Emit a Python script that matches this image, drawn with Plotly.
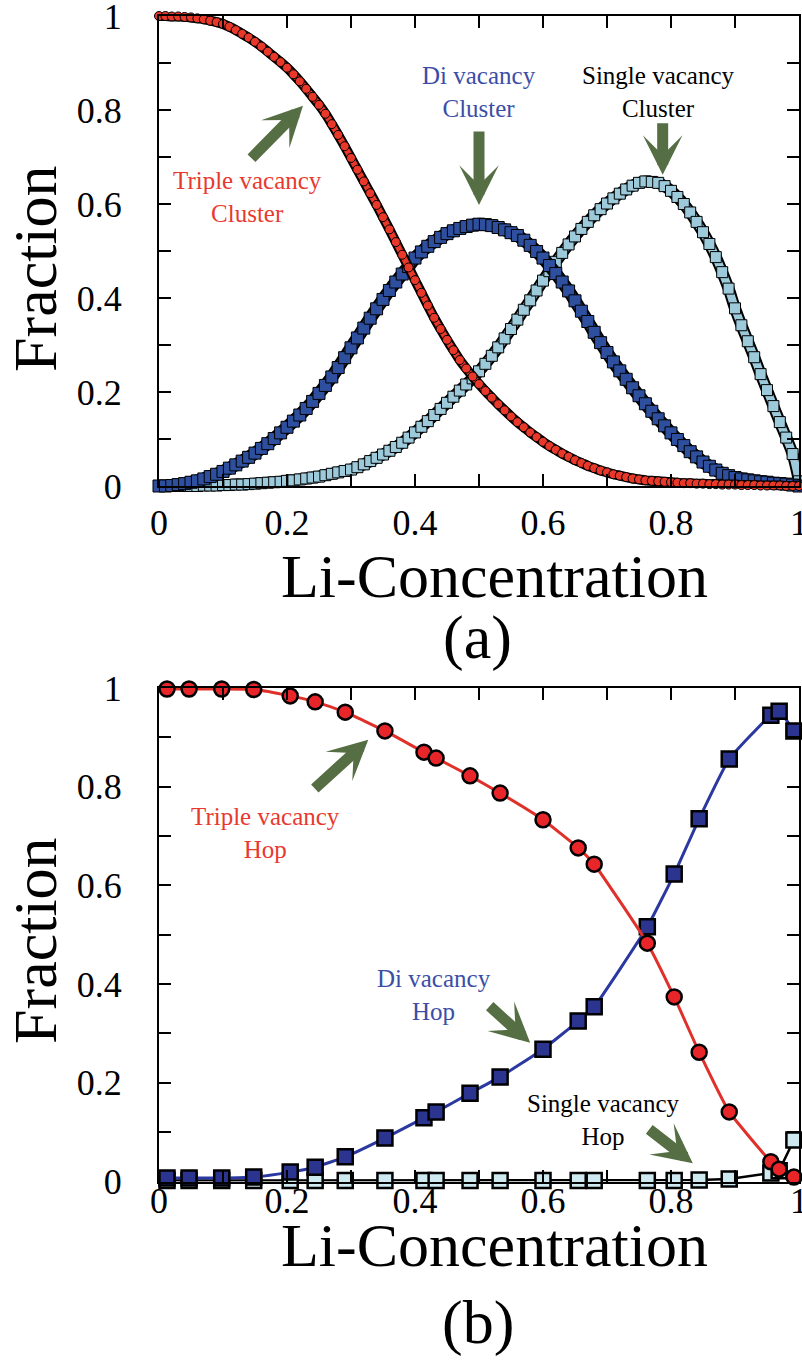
import plotly.graph_objects as go

# ---------------- panel (a): cluster fractions vs Li concentration ----------------
conc_a = [i / 100 for i in range(101)]

triple_cluster = [
    1.000, 1.000, 0.999, 0.999, 0.998, 0.997, 0.995, 0.993, 0.990, 0.987,
    0.983, 0.977, 0.970, 0.962, 0.954, 0.945, 0.935, 0.924, 0.913, 0.902,
    0.890, 0.876, 0.861, 0.845, 0.828, 0.811, 0.792, 0.770, 0.747, 0.723,
    0.698, 0.673, 0.648, 0.623, 0.598, 0.572, 0.546, 0.519, 0.492, 0.465,
    0.438, 0.411, 0.384, 0.358, 0.334, 0.311, 0.289, 0.268, 0.250, 0.233,
    0.217, 0.202, 0.188, 0.174, 0.161, 0.148, 0.136, 0.125, 0.114, 0.104,
    0.094, 0.085, 0.077, 0.069, 0.062, 0.055, 0.049, 0.043, 0.038, 0.033,
    0.029, 0.025, 0.022, 0.019, 0.016, 0.014, 0.012, 0.011, 0.010, 0.009,
    0.008, 0.007, 0.006, 0.006, 0.005, 0.005, 0.004, 0.004, 0.003, 0.003,
    0.003, 0.002, 0.002, 0.002, 0.001, 0.001, 0.001, 0.001, 0.000, 0.000,
    0.000,
]

di_cluster = [
    0.000, 0.000, 0.001, 0.003, 0.005, 0.008, 0.011, 0.015, 0.020, 0.025,
    0.031, 0.038, 0.045, 0.053, 0.061, 0.070, 0.080, 0.090, 0.101, 0.113,
    0.125, 0.138, 0.151, 0.165, 0.180, 0.197, 0.214, 0.232, 0.252, 0.273,
    0.294, 0.315, 0.336, 0.357, 0.377, 0.397, 0.416, 0.434, 0.451, 0.467,
    0.485, 0.498, 0.510, 0.520, 0.529, 0.537, 0.543, 0.548, 0.552, 0.555,
    0.557, 0.556, 0.554, 0.550, 0.545, 0.539, 0.533, 0.523, 0.512, 0.499,
    0.485, 0.469, 0.452, 0.434, 0.415, 0.394, 0.372, 0.350, 0.327, 0.305,
    0.284, 0.264, 0.245, 0.227, 0.209, 0.192, 0.175, 0.159, 0.143, 0.128,
    0.113, 0.099, 0.086, 0.073, 0.062, 0.051, 0.042, 0.034, 0.027, 0.022,
    0.018, 0.015, 0.013, 0.011, 0.009, 0.008, 0.006, 0.005, 0.004, 0.002,
    0.000,
]

single_cluster = [
    0.000, 0.000, 0.000, 0.000, 0.000, 0.000, 0.000, 0.001, 0.001, 0.001,
    0.002, 0.002, 0.003, 0.003, 0.004, 0.005, 0.006, 0.007, 0.008, 0.009,
    0.011, 0.012, 0.014, 0.016, 0.018, 0.020, 0.023, 0.026, 0.029, 0.032,
    0.035, 0.040, 0.046, 0.053, 0.060, 0.067, 0.075, 0.083, 0.092, 0.103,
    0.114, 0.126, 0.138, 0.151, 0.164, 0.177, 0.190, 0.203, 0.216, 0.229,
    0.244, 0.260, 0.277, 0.295, 0.314, 0.334, 0.354, 0.375, 0.395, 0.416,
    0.437, 0.457, 0.477, 0.496, 0.514, 0.531, 0.547, 0.562, 0.576, 0.589,
    0.601, 0.612, 0.622, 0.631, 0.639, 0.645, 0.648, 0.647, 0.645, 0.638,
    0.628, 0.615, 0.600, 0.582, 0.562, 0.540, 0.515, 0.487, 0.455, 0.420,
    0.378, 0.342, 0.308, 0.274, 0.238, 0.204, 0.170, 0.136, 0.103, 0.068,
    0.010,
]

# ---------------- panel (b): hop fractions vs Li concentration ----------------
conc_b = [0.0125, 0.047, 0.098, 0.148, 0.205, 0.244, 0.291, 0.353, 0.414, 0.433,
          0.486, 0.533, 0.600, 0.655, 0.680, 0.763, 0.805, 0.844, 0.891, 0.956,
          0.969, 0.992]

triple_hop = [0.998, 0.998, 0.998, 0.997, 0.984, 0.972, 0.951, 0.913, 0.870, 0.858,
              0.822, 0.787, 0.733, 0.676, 0.643, 0.483, 0.374, 0.262, 0.141, 0.040,
              0.025, 0.009]

di_hop = [0.007, 0.007, 0.007, 0.009, 0.019, 0.029, 0.050, 0.088, 0.129, 0.141,
          0.179, 0.212, 0.268, 0.325, 0.354, 0.516, 0.623, 0.735, 0.856, 0.945,
          0.953, 0.913]

single_hop = [0.002, 0.002, 0.002, 0.002, 0.002, 0.002, 0.002, 0.002, 0.002, 0.002,
              0.002, 0.002, 0.002, 0.002, 0.002, 0.002, 0.002, 0.003, 0.005, 0.017,
              0.022, 0.084]

x_ticks = [0, 0.2, 0.4, 0.6, 0.8, 1]
x_tick_text = ["0", "0.2", "0.4", "0.6", "0.8", "1"]
y_ticks = [0, 0.2, 0.4, 0.6, 0.8, 1]
y_tick_text = ["0", "0.2", "0.4", "0.6", "0.8", "1"]

# ---------------- style ----------------
W, H = 802, 1364
SERIF = "Liberation Serif"
RED = "#e8382a"
BLUE = "#2d4f9e"
LIGHT = "#9ccadb"
NAVY = "#2b3590"
PALE = "#cfe9f0"
GREEN = "#566e43"


def px(xp):
    return xp / W


def py(yp):
    return 1 - yp / H


fig = go.Figure()


def dense_band(xs, ys, fill, symbol, size):
    """A packed run of outlined markers: dark rim, coloured core, markers on top."""
    fig.add_trace(go.Scatter(x=xs, y=ys, mode="lines", xaxis="x", yaxis="y",
                             line=dict(color="black", width=size + 1, shape="spline"),
                             cliponaxis=False, showlegend=False, hoverinfo="skip"))
    fig.add_trace(go.Scatter(x=xs, y=ys, mode="lines", xaxis="x", yaxis="y",
                             line=dict(color=fill, width=size - 3, shape="spline"),
                             cliponaxis=False, showlegend=False, hoverinfo="skip"))
    fig.add_trace(go.Scatter(x=xs, y=ys, mode="markers", xaxis="x", yaxis="y",
                             marker=dict(symbol=symbol, size=size, color=fill,
                                         line=dict(color="black", width=1)),
                             cliponaxis=False, showlegend=False))


# panel (a)
dense_band(conc_a, single_cluster, LIGHT, "square", 11)
dense_band(conc_a, di_cluster, BLUE, "square", 12)
dense_band(conc_a, triple_cluster, RED, "circle", 9)

# panel (b) — lines with markers
fig.add_trace(go.Scatter(x=conc_b, y=single_hop, mode="lines+markers", xaxis="x2", yaxis="y2",
                         line=dict(color="black", width=2.5),
                         marker=dict(symbol="square", size=15, color=PALE,
                                     line=dict(color="black", width=2.5)),
                         cliponaxis=False, showlegend=False))
fig.add_trace(go.Scatter(x=conc_b, y=di_hop, mode="lines+markers", xaxis="x2", yaxis="y2",
                         line=dict(color="#2b38a0", width=3, shape="spline", smoothing=0.4),
                         marker=dict(symbol="square", size=15, color=NAVY,
                                     line=dict(color="black", width=2.5)),
                         cliponaxis=False, showlegend=False))
fig.add_trace(go.Scatter(x=conc_b, y=triple_hop, mode="lines+markers", xaxis="x2", yaxis="y2",
                         line=dict(color="#e0302a", width=3, shape="spline", smoothing=0.4),
                         marker=dict(symbol="circle", size=15, color="#e8262a",
                                     line=dict(color="black", width=2.5)),
                         cliponaxis=False, showlegend=False))

axis_common = dict(
    range=[0, 1], showline=True, linecolor="black", linewidth=2, mirror="allticks",
    ticks="inside", ticklen=12, tickwidth=1.5, tickcolor="black", automargin=False,
    tickfont=dict(family=SERIF, size=36, color="black"),
    showgrid=False, zeroline=False, fixedrange=True, ticklabeloverflow="allow",
    minor=dict(ticks="inside", ticklen=12, tickwidth=1.5, tickcolor="black", dtick=0.1,
               showgrid=False),
)

xdom = [px(159), px(799)]
fig.update_layout(
    template="none",
    width=W, height=H, margin=dict(l=0, r=0, t=0, b=0, pad=0), autosize=False,
    paper_bgcolor="white", plot_bgcolor="white",
    xaxis=dict(axis_common, domain=xdom, anchor="y", tickvals=x_ticks,
               ticktext=x_tick_text, ticklabelstandoff=4),
    yaxis=dict(axis_common, domain=[py(486), py(16)], anchor="x", tickvals=y_ticks,
               ticktext=y_tick_text, ticklabelstandoff=28),
    xaxis2=dict(axis_common, domain=xdom, anchor="y2", tickvals=x_ticks,
                ticktext=x_tick_text, ticklabelstandoff=-14),
    yaxis2=dict(axis_common, domain=[py(1181.5), py(688)], anchor="x2", tickvals=y_ticks,
                ticktext=y_tick_text, ticklabelstandoff=28),
)

ann = []


def label(text, x, y, color, xref="x", yref="y", size=25):
    ann.append(dict(text=text, x=x, y=y, xref=xref, yref=yref, showarrow=False,
                    xanchor="center", yanchor="middle",
                    font=dict(family=SERIF, size=size, color=color)))


def arrow(x, y, ax, ay, xref="x", yref="y"):
    ann.append(dict(text="", x=x, y=y, xref=xref, yref=yref, ax=ax, ay=ay,
                    showarrow=True, arrowhead=3, arrowwidth=11, arrowsize=0.6,
                    arrowcolor=GREEN))


# panel (a) labels and arrows
label("Triple vacancy<br>Cluster", 0.138, 0.615, "#e8392f")
label("Di vacancy<br>Cluster", 0.5, 0.838, "#3b4ea6")
label("Single vacancy<br>Cluster", 0.781, 0.838, "black")
arrow(0.225, 0.809, -53, 54)
arrow(0.5, 0.598, 0, -75)
arrow(0.787, 0.662, 0, -53)

# panel (b) labels and arrows
label("Triple vacancy<br>Hop", 0.166, 0.706, "#e8392f", "x2", "y2")
label("Di vacancy<br>Hop", 0.430, 0.378, "#3b4ea6", "x2", "y2")
label("Single vacancy<br>Hop", 0.694, 0.125, "black", "x2", "y2")
arrow(0.327, 0.895, -55, 50, "x2", "y2")
arrow(0.580, 0.281, -42, -38, "x2", "y2")
arrow(0.834, 0.037, -45, -35, "x2", "y2")

# axis titles and panel tags
big = 62
for yc in (269, 941):
    ann.append(dict(text="Fraction", x=px(35), y=py(yc), xref="paper", yref="paper",
                    showarrow=False, textangle=-90, xanchor="center", yanchor="middle",
                    font=dict(family=SERIF, size=big, color="black")))
label("Li-Concentration", px(494), py(576), "black", "paper", "paper", big)
label("(a)", px(478), py(637), "black", "paper", "paper", big)
label("Li-Concentration", px(494), py(1245), "black", "paper", "paper", big)
label("(b)", px(478), py(1322), "black", "paper", "paper", big)

fig.update_layout(annotations=ann)
fig.write_html("out.html")
